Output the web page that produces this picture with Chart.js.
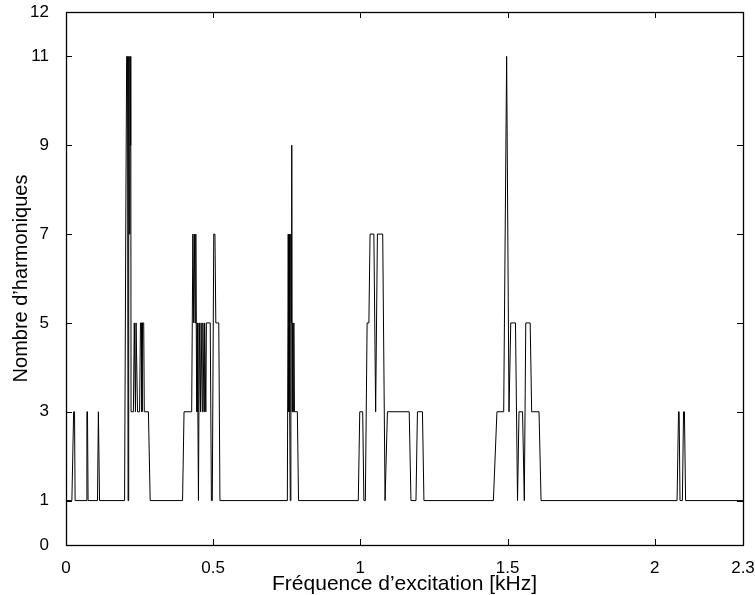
<!DOCTYPE html>
<html>
<head>
<meta charset="utf-8">
<script src="https://cdn.jsdelivr.net/npm/chart.js@4.4.1/dist/chart.umd.min.js"></script>
<style>
  html, body { margin: 0; padding: 0; background: #fff; }
</style>
</head>
<body>
<canvas id="chart" width="755" height="595"></canvas>
<script>
// excitation frequency (kHz) and number of harmonics
const freqKHz = [
  0, 0.020, 0.026, 0.029, 0.031, 0.068, 0.071, 0.073, 0.075, 0.107, 0.110, 0.112, 0.114,
  0.199, 0.203, 0.206, 0.209, 0.211, 0.213, 0.215, 0.217, 0.219, 0.220, 0.221,
  0.229, 0.232, 0.234, 0.236, 0.238, 0.241, 0.243, 0.250, 0.253, 0.256, 0.258, 0.260, 0.264, 0.266, 0.280, 0.286,
  0.396, 0.401, 0.427, 0.431, 0.434, 0.436, 0.439, 0.441, 0.444, 0.446, 0.448, 0.450, 0.453, 0.457, 0.459,
  0.463, 0.465, 0.469, 0.471, 0.475, 0.477, 0.490, 0.494, 0.497, 0.502, 0.506, 0.509, 0.519, 0.523,
  0.752, 0.755, 0.757, 0.759, 0.760, 0.762, 0.764, 0.765, 0.767, 0.768, 0.770, 0.772, 0.774, 0.776, 0.786, 0.790,
  0.993, 0.998, 1.008, 1.012, 1.017, 1.023, 1.029, 1.033, 1.046, 1.052, 1.058, 1.076, 1.084, 1.087, 1.092,
  1.166, 1.172, 1.189, 1.194, 1.211, 1.216,
  1.452, 1.464, 1.487, 1.497, 1.505, 1.511, 1.527, 1.534, 1.539, 1.551, 1.557, 1.562, 1.577, 1.582, 1.607, 1.614,
  2.076, 2.081, 2.083, 2.086, 2.094, 2.098, 2.101, 2.105, 2.3
];
const harmonics = [
  1, 1, 3, 3, 1, 1, 3, 3, 1, 1, 3, 3, 1,
  1, 7, 11, 11, 1, 11, 7, 11, 9, 11, 3,
  3, 5, 5, 3, 5, 5, 3, 3, 5, 5, 3, 5, 5, 3, 3, 1,
  1, 3, 3, 7, 5, 7, 5, 7, 3, 5, 3, 1, 5, 3, 5,
  3, 5, 3, 5, 3, 5, 5, 1, 1, 7, 7, 5, 5, 1,
  1, 7, 3, 7, 3, 1, 7, 5, 9, 3, 5, 3, 5, 3, 3, 1,
  1, 3, 3, 1, 1, 5, 5, 7, 7, 3, 7, 7, 1, 1, 3,
  3, 1, 1, 3, 3, 1,
  1, 3, 3, 11, 3, 5, 5, 1, 3, 3, 1, 5, 5, 3, 3, 1,
  1, 3, 3, 1, 1, 3, 3, 1, 1
];
const xTicks = [0, 0.5, 1, 1.5, 2, 2.3];
const yTicks = [0, 1, 3, 5, 7, 9, 11, 12];

const points = freqKHz.map((f, i) => ({ x: f, y: harmonics[i] }));

const FONT = "'Liberation Sans', Arial, Helvetica, sans-serif";

// MATLAB-style box with inward tick marks on all four sides
const matlabBox = {
  id: 'matlabBox',
  afterDraw(chart) {
    const { ctx, chartArea: a, scales: { x, y } } = chart;
    const len = 6;
    ctx.save();
    ctx.strokeStyle = '#000';
    ctx.lineWidth = 1;
    ctx.beginPath();
    xTicks.forEach((v) => {
      const px = Math.round(x.getPixelForValue(v)) + 0.5;
      ctx.moveTo(px, a.bottom);
      ctx.lineTo(px, a.bottom - len);
      ctx.moveTo(px, a.top);
      ctx.lineTo(px, a.top + len);
    });
    yTicks.forEach((v) => {
      const py = Math.round(y.getPixelForValue(v)) + 0.5;
      ctx.moveTo(a.left, py);
      ctx.lineTo(a.left + len, py);
      ctx.moveTo(a.right, py);
      ctx.lineTo(a.right - len, py);
    });
    ctx.stroke();
    ctx.lineWidth = 1.3;
    ctx.strokeRect(Math.round(a.left) + 0.5, Math.round(a.top) + 0.5,
      Math.round(a.right) - Math.round(a.left), Math.round(a.bottom) - Math.round(a.top));
    ctx.restore();
  },
};

new Chart(document.getElementById('chart'), {
  type: 'scatter',
  data: {
    datasets: [
      {
        data: points,
        showLine: true,
        borderColor: '#000',
        borderWidth: 1,
        pointRadius: 0,
        tension: 0,
      },
    ],
  },
  options: {
    responsive: false,
    animation: false,
    devicePixelRatio: 1,
    layout: { padding: { left: 0, right: 12, top: 12, bottom: 0 } },
    plugins: {
      legend: { display: false },
      tooltip: { enabled: false },
    },
    scales: {
      x: {
        type: 'linear',
        min: 0,
        max: 2.3,
        afterBuildTicks: (scale) => {
          scale.ticks = xTicks.map((v) => ({ value: v }));
        },
        afterFit: (scale) => {
          scale.height = 50;
          scale.paddingLeft = 0;
          scale.paddingRight = 0;
        },
        grid: { display: false },
        border: { display: false },
        ticks: {
          color: '#000',
          font: { family: FONT, size: 17 },
          padding: 5,
          maxRotation: 0,
          autoSkip: false,
          callback: (v) => String(v),
        },
        title: {
          display: true,
          text: 'Fréquence d’excitation [kHz]',
          color: '#000',
          font: { family: FONT, size: 21, lineHeight: 1 },
          padding: { top: 0, bottom: 0 },
        },
      },
      y: {
        type: 'linear',
        min: 0,
        max: 12,
        afterBuildTicks: (scale) => {
          scale.ticks = yTicks.map((v) => ({ value: v }));
        },
        afterFit: (scale) => {
          scale.width = 66;
          scale.paddingTop = 0;
          scale.paddingBottom = 0;
        },
        grid: { display: false },
        border: { display: false },
        ticks: {
          color: '#000',
          font: { family: FONT, size: 17 },
          padding: 9,
          autoSkip: false,
          callback: (v) => String(v),
        },
        title: {
          display: true,
          text: 'Nombre d’harmoniques',
          color: '#000',
          font: { family: FONT, size: 20, lineHeight: 1 },
          padding: { top: 11, bottom: 0 },
        },
      },
    },
  },
  plugins: [matlabBox],
});
</script>
</body>
</html>
